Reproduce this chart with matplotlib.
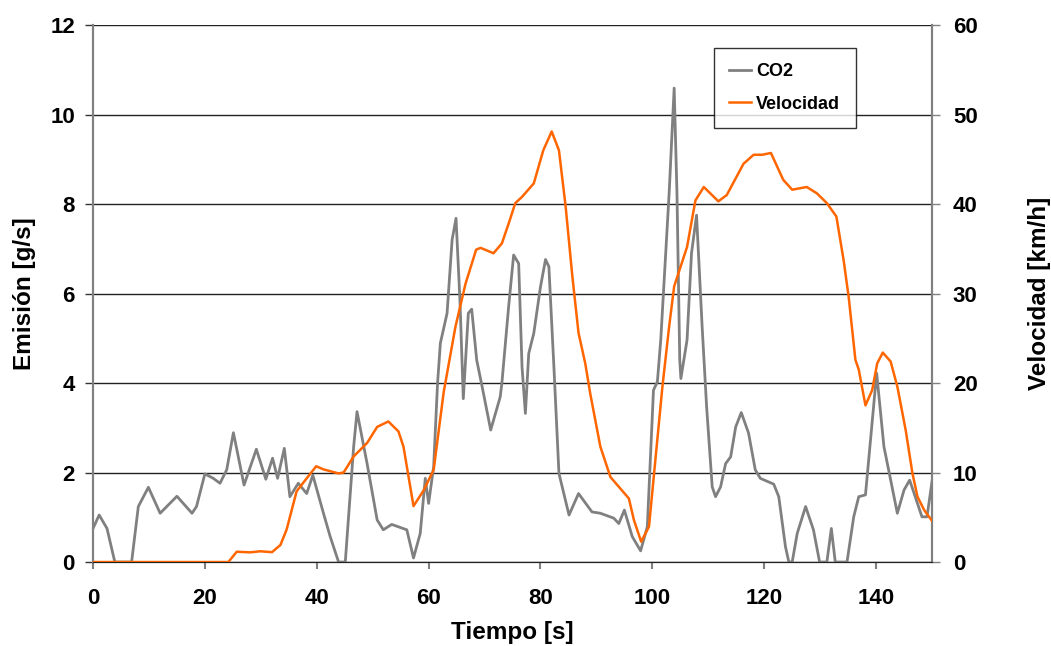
import matplotlib.pyplot as plt

plt.rcParams['font.family'] = ['Liberation Sans', 'DejaVu Sans']
plt.rcParams['font.weight'] = 'bold'

# Emisión de CO2 [g/s]
t_co2 = [0, 1.1, 2.5, 3.9, 5.5, 6.9, 8.1, 9.9, 12.0, 15.0, 17.7, 18.5, 20.0, 21.5,
         22.7, 23.9, 25.1, 27.0, 29.2, 30.9, 32.1, 33.0, 34.2, 35.2, 36.7, 38.2,
         39.3, 41.2, 42.4, 43.9, 45.1, 46.6, 47.2, 49.0, 50.8, 51.9, 53.4, 56.1,
         57.3, 58.5, 59.4, 60.0, 60.9, 61.6, 62.1, 63.3, 64.2, 64.9, 65.6, 66.2,
         67.1, 67.7, 68.6, 69.5, 71.1, 72.8, 73.1, 74.3, 75.2, 76.1, 76.7, 77.3,
         77.9, 78.8, 80.0, 80.9, 81.5, 82.4, 83.3, 85.1, 86.8, 89.2, 90.7, 93.1,
         94.0, 95.0, 96.4, 97.9, 99.1, 100.2, 100.9, 101.5, 103.0, 103.9, 104.4,
         104.9, 105.1, 106.2, 107.0, 107.9, 108.9, 109.7, 110.7, 111.3, 112.2,
         113.1, 114.0, 114.9, 115.9, 117.2, 118.4, 119.3, 121.7, 122.6, 123.8,
         124.4, 125.0, 125.9, 127.4, 128.8, 129.9, 131.2, 132.0, 132.7, 134.8,
         136.0, 136.9, 138.1, 139.0, 140.1, 141.4, 142.6, 143.8, 145.0, 146.0,
         147.4, 148.2, 149.1, 150]
co2 = [0.75, 1.05, 0.75, 0.0, 0.0, 0.0, 1.24, 1.67, 1.09, 1.47, 1.09, 1.24, 1.97, 1.87,
       1.76, 2.06, 2.89, 1.72, 2.52, 1.85, 2.32, 1.87, 2.54, 1.46, 1.76, 1.53,
       1.94, 1.09, 0.57, 0.0, 0.0, 2.58, 3.36, 2.2, 0.94, 0.72, 0.84, 0.72,
       0.09, 0.64, 1.87, 1.31, 2.13, 4.0, 4.89, 5.56, 7.2, 7.68, 5.85, 3.65,
       5.56, 5.65, 4.51, 3.96, 2.95, 3.69, 4.0, 5.7, 6.86, 6.67, 4.36, 3.32,
       4.66, 5.11, 6.15, 6.76, 6.6, 4.36, 1.98, 1.05, 1.53, 1.12, 1.09, 0.98,
       0.86, 1.16, 0.57, 0.25, 0.79, 3.84, 4.03, 4.96, 8.24, 10.59, 8.24,
       4.51, 4.1, 4.96, 6.9, 7.75, 5.26, 3.47, 1.68, 1.46, 1.68,
       2.2, 2.35, 3.02, 3.34, 2.88, 2.06, 1.87, 1.74, 1.46, 0.34,
       0.0, 0.0, 0.64, 1.24, 0.72, 0.0, 0.0, 0.75, 0.0, 0.0,
       1.01, 1.46, 1.5, 2.73, 4.22, 2.58, 1.83, 1.09, 1.61, 1.83,
       1.31, 1.01, 1.01, 1.8]

# Velocidad [km/h]
t_vel = [0, 24.2, 25.7, 28.1, 29.9, 32.0, 33.5, 34.6, 36.4, 38.2, 39.9, 41.2, 43.9,
         44.8, 46.6, 49.0, 50.8, 52.8, 54.6, 55.5, 57.3, 59.1, 60.9, 62.7, 64.8,
         66.6, 68.5, 69.3, 71.6, 73.1, 74.3, 75.5, 76.7, 78.8, 80.5, 82.0, 83.3,
         84.5, 85.7, 86.8, 88.0, 88.9, 90.7, 92.5, 95.8, 96.7, 98.0, 99.4, 100.6,
         101.8, 103.0, 103.9, 106.2, 107.7, 109.2, 111.8, 113.3, 116.3, 118.1,
         119.6, 121.2, 123.4, 125.0, 127.6, 129.4, 131.2, 132.9, 134.2, 135.1,
         136.3, 136.9, 138.1, 139.3, 140.2, 141.2, 142.6, 143.8, 145.3, 146.5,
         147.4, 148.6, 150]
vel = [0, 0, 1.15, 1.08, 1.2, 1.1, 1.9, 3.6, 7.9, 9.35, 10.7, 10.35, 9.9,
       10.0, 11.8, 13.3, 15.1, 15.7, 14.6, 12.9, 6.25, 8.0, 10.3, 19.0, 26.3,
       31.1, 34.9, 35.1, 34.5, 35.6, 37.8, 40.1, 40.8, 42.3, 46.0, 48.1, 46.0,
       39.7, 31.9, 25.6, 22.2, 18.8, 12.9, 9.5, 7.1, 4.7, 2.27, 3.95, 11.8,
       19.6, 26.3, 30.8, 35.2, 40.4, 41.9, 40.3, 41.0, 44.5, 45.5,
       45.5, 45.7, 42.7, 41.6, 41.9, 41.2, 40.1, 38.6, 33.7, 29.6,
       22.6, 21.5, 17.5, 19.2, 22.2, 23.4, 22.4, 19.6, 14.7, 9.9,
       7.3, 5.8, 4.6]

fig = plt.figure(figsize=(10.51, 6.46), dpi=100)
ax = fig.add_axes([0.0885, 0.130, 0.7983, 0.8313])
ax2 = ax.twinx()

l1, = ax.plot(t_co2, co2, color='#808080', lw=2.0, label='CO2', zorder=3)
l2, = ax2.plot(t_vel, vel, color='#FF6600', lw=1.8, label='Velocidad', zorder=3)

ax.set_xlim(0, 150)
ax.set_ylim(0, 12)
ax2.set_ylim(0, 60)
ax.set_xticks(range(0, 141, 20))
ax.set_yticks(range(0, 13, 2))
ax2.set_yticks(range(0, 61, 10))

ax.grid(axis='y', color='#222222', lw=1.0)
ax.set_axisbelow(True)
for a in (ax, ax2):
    a.spines['top'].set_visible(False)
    a.spines['left'].set_color('#808080')
    a.spines['right'].set_color('#808080')
    a.spines['left'].set_linewidth(1.5)
    a.spines['right'].set_linewidth(1.5)
    a.spines['bottom'].set_color('#222222')
    a.tick_params(labelsize=16)
ax.tick_params(axis='y', length=6, width=1.0, color='#333333', pad=7)
ax2.tick_params(axis='y', length=6, width=1.0, color='#808080', pad=9)
ax.tick_params(axis='x', direction='out', length=5, width=1.5,
               color='#808080', pad=14)

ax.set_xlabel('Tiempo [s]', fontsize=17.5, fontweight='bold', labelpad=8)
ax.set_ylabel('Emisión [g/s]', fontsize=17.5, fontweight='bold', labelpad=10)
ax2.set_ylabel('Velocidad [km/h]', fontsize=17.5, fontweight='bold', labelpad=36)

leg = ax2.legend(handles=[l1, l2], loc='upper left', bbox_to_anchor=(0.740, 0.957),
                 fontsize=13, frameon=True, fancybox=False, handlelength=1.2,
                 handletextpad=0.3, labelspacing=0.85, borderpad=0.85,
                 borderaxespad=0)
leg.get_frame().set_edgecolor('black')
leg.get_frame().set_linewidth(1.0)
for text in leg.get_texts():
    text.set_fontweight('bold')

fig.savefig('out.png', dpi=100)
